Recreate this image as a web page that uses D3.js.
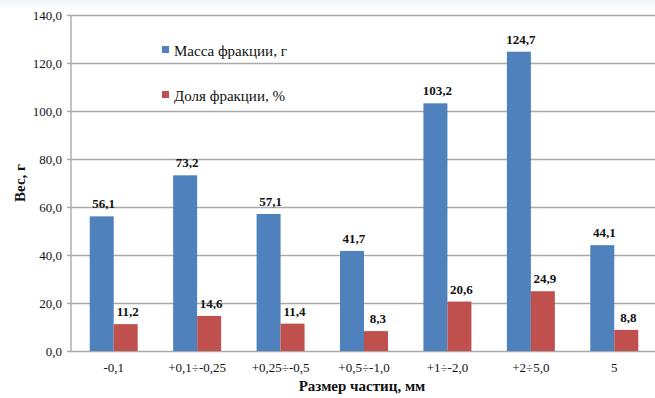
<!DOCTYPE html>
<html>
<head>
<meta charset="utf-8">
<script src="https://cdn.jsdelivr.net/npm/d3@7"></script>
</head>
<body style="margin:0">
<svg id="chart" width="655" height="398" font-family="Liberation Serif"></svg>
<script>
// Fraction sizes (mm) and the two measured series
const categories = ["-0,1", "+0,1÷-0,25", "+0,25÷-0,5", "+0,5÷-1,0", "+1÷-2,0", "+2÷5,0", "5"];
const massValues = [56.1, 73.2, 57.1, 41.7, 103.2, 124.7, 44.1];
const shareValues = [11.2, 14.6, 11.4, 8.3, 20.6, 24.9, 8.8];
const seriesNames = ["Масса фракции, г", "Доля фракции, %"];
const seriesColors = ["#4f81bd", "#c0504d"];
const yTicks = [0, 20, 40, 60, 80, 100, 120, 140];

const FONT = "Liberation Serif";
const fmt = v => v.toFixed(1).replace(".", ",");

const svg = d3.select("#chart");
const W = 655;
const plot = { left: 71, right: 656, top: 15, bottom: 351 };

// faint tint along the top edge
const grad = svg.append("defs").append("linearGradient")
  .attr("id", "topTint").attr("x1", 0).attr("y1", 0).attr("x2", 0).attr("y2", 1);
grad.append("stop").attr("offset", "0%").attr("stop-color", "#eef4fa");
grad.append("stop").attr("offset", "100%").attr("stop-color", "#ffffff");
svg.append("rect").attr("width", W).attr("height", 10).attr("fill", "url(#topTint)");

const x0 = d3.scaleBand().domain(categories).range([plot.left + 1, plot.right]).paddingInner(0.425).paddingOuter(0.2125);
const x1 = d3.scaleBand().domain([0, 1]).range([0, x0.bandwidth()]);
const y = d3.scaleLinear().domain([0, 140]).range([plot.bottom, plot.top]);

// horizontal gridlines with left ticks
const yAxis = d3.axisLeft(y).tickValues(yTicks).tickSize(-(plot.right - plot.left)).tickSizeOuter(0).tickFormat(fmt).tickPadding(9);
const gy = svg.append("g").attr("transform", `translate(${plot.left},0)`).call(yAxis);
gy.attr("font-family", FONT).attr("font-size", 13);
gy.select(".domain").remove();
gy.selectAll(".tick line").attr("stroke", "#a9a9a9").attr("stroke-width", 1.4).attr("x1", -4);
gy.selectAll(".tick text").attr("font-family", FONT).attr("font-size", 13).attr("fill", "#111");

// vertical axis line
svg.append("line").attr("x1", plot.left).attr("x2", plot.left)
  .attr("y1", plot.top).attr("y2", plot.bottom)
  .attr("stroke", "#a9a9a9").attr("stroke-width", 1.4);

// bars with value labels
const rows = categories.map((c, i) => [massValues[i], shareValues[i]]);
const groups = svg.append("g").selectAll("g").data(categories).join("g")
  .attr("transform", d => `translate(${x0(d)},0)`);

groups.each(function (c, i) {
  const g = d3.select(this);
  rows[i].forEach((v, s) => {
    g.append("rect")
      .attr("x", x1(s)).attr("width", x1.bandwidth())
      .attr("y", y(v)).attr("height", y(0) - y(v))
      .attr("fill", seriesColors[s]);
    g.append("text")
      .attr("x", x1(s) + x1.bandwidth() / 2 + 2)
      .attr("y", y(v) - 8)
      .attr("text-anchor", "middle")
      .attr("font-family", FONT).attr("font-size", 13).attr("font-weight", "bold")
      .attr("fill", "#111")
      .text(fmt(v));
  });
});

// category labels
svg.append("g").selectAll("text").data(categories).join("text")
  .attr("x", d => x0(d) + x0.bandwidth() / 2)
  .attr("y", 372)
  .attr("text-anchor", "middle")
  .attr("font-family", FONT).attr("font-size", 13)
  .attr("fill", "#111")
  .text(d => d);

// axis titles
svg.append("text")
  .attr("x", 362).attr("y", 391)
  .attr("text-anchor", "middle")
  .attr("font-family", FONT).attr("font-size", 15).attr("font-weight", "bold")
  .attr("fill", "#111")
  .text("Размер частиц, мм");

svg.append("text")
  .attr("transform", "translate(25,183) rotate(-90)")
  .attr("text-anchor", "middle")
  .attr("font-family", FONT).attr("font-size", 15).attr("font-weight", "bold")
  .attr("fill", "#111")
  .text("Вес, г");

// legend
const legend = svg.append("g").selectAll("g").data(seriesNames).join("g")
  .attr("transform", (d, i) => `translate(162,${46 + i * 45})`);
legend.append("rect").attr("width", 7).attr("height", 7)
  .attr("fill", (d, i) => seriesColors[i]);
legend.append("text").attr("x", 12).attr("y", 10)
  .attr("font-family", FONT).attr("font-size", 15)
  .attr("fill", "#111")
  .text(d => d);
</script>
</body>
</html>
